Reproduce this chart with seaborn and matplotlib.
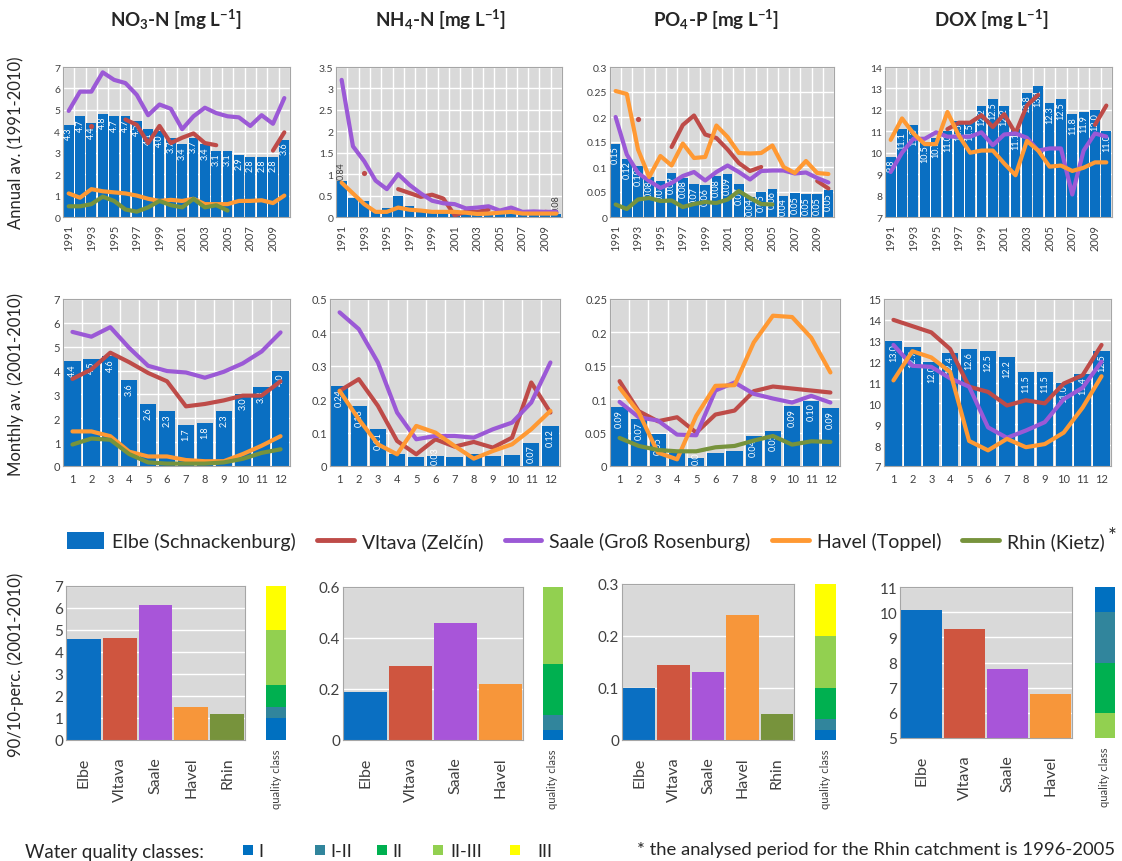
import numpy as np
import matplotlib
matplotlib.use("Agg")
import matplotlib.pyplot as plt
from matplotlib.patches import Patch, Rectangle
from matplotlib.lines import Line2D
from matplotlib.ticker import FuncFormatter
import seaborn as sns

nan = np.nan

years = list(range(1991, 2011))
months = list(range(1, 13))
rivers = ["Elbe", "Vltava", "Saale", "Havel", "Rhin"]

# ---- annual averages 1991-2010 ----
no3_elbe_y = [4.3, 4.7, 4.37, 4.8, 4.7, 4.7, 4.5, 4.1, 4.0, 3.7, 3.4, 3.7, 3.4, 3.1, 3.1, 2.9, 2.8, 2.8, 2.8, 3.6]
no3_vltava_y = [nan, nan, 4.25, nan, nan, 4.55, 4.3, 3.45, 4.25, 3.45, 3.7, 3.9, 3.45, 3.35, nan, nan, nan, nan, 3.1, 3.95]
no3_saale_y = [4.95, 5.85, 5.85, 6.75, 6.4, 6.25, 5.7, 4.75, 5.25, 5.05, 4.1, 4.7, 5.1, 4.85, 4.7, 4.65, 4.25, 4.75, 4.35, 5.55]
no3_havel_y = [1.1, 0.9, 1.3, 1.2, 1.15, 1.1, 1.0, 0.85, 0.75, 0.8, 0.75, 0.85, 0.6, 0.6, 0.6, 0.75, 0.75, 0.78, 0.65, 1.0]
no3_rhin_y = [0.5, 0.5, 0.6, 0.95, 0.75, 0.35, 0.25, 0.45, 0.75, 0.55, 0.45, 0.85, 0.45, 0.55, 0.3, nan, nan, nan, nan, nan]

nh4_elbe_y = [0.84, 0.45, 0.38, 0.15, 0.22, 0.48, 0.25, 0.12, 0.1, 0.1, 0.08, 0.07, 0.06, 0.06, 0.06, 0.06, 0.05, 0.05, 0.05, 0.08]
nh4_vltava_y = [nan, nan, 1.02, nan, nan, 0.65, 0.56, 0.47, 0.52, 0.43, 0.04, 0.12, 0.12, 0.17, nan, nan, nan, nan, 0.12, 0.1]
nh4_saale_y = [3.2, 1.65, 1.3, 0.85, 0.65, 1.0, 0.75, 0.55, 0.38, 0.32, 0.3, 0.2, 0.22, 0.25, 0.15, 0.22, 0.12, 0.13, 0.12, 0.12]
nh4_havel_y = [0.8, 0.55, 0.3, 0.12, 0.12, 0.22, 0.17, 0.15, 0.12, 0.12, 0.12, 0.1, 0.07, 0.08, 0.1, 0.12, 0.08, 0.08, 0.08, 0.08]

po4_elbe_y = [0.147, 0.117, 0.103, 0.08, 0.073, 0.088, 0.079, 0.066, 0.064, 0.082, 0.086, 0.066, 0.04, 0.051, 0.057, 0.042, 0.048, 0.046, 0.046, 0.054]
po4_vltava_y = [nan, nan, 0.197, nan, nan, 0.14, 0.184, 0.203, 0.165, 0.158, 0.135, 0.108, 0.092, 0.1, nan, nan, nan, nan, 0.072, 0.057]
po4_saale_y = [0.2, 0.125, 0.088, 0.072, 0.058, 0.068, 0.082, 0.09, 0.073, 0.09, 0.103, 0.09, 0.075, 0.092, 0.093, 0.093, 0.087, 0.089, 0.078, 0.069]
po4_havel_y = [0.252, 0.246, 0.135, 0.08, 0.122, 0.103, 0.147, 0.118, 0.12, 0.183, 0.16, 0.128, 0.127, 0.128, 0.143, 0.1, 0.088, 0.112, 0.088, 0.086]
po4_rhin_y = [0.025, 0.016, 0.035, 0.038, 0.032, 0.033, 0.02, 0.026, 0.03, 0.028, 0.035, 0.052, 0.038, 0.026, 0.025, nan, nan, nan, nan, nan]

dox_elbe_y = [9.8, 11.1, 11.3, 10.5, 10.7, 11.0, 11.5, 11.5, 12.2, 12.5, 12.2, 11.1, 12.8, 13.1, 12.3, 12.5, 11.8, 11.9, 12.0, 11.0]
dox_vltava_y = [nan, nan, nan, nan, nan, 11.1, 11.4, 11.4, 11.75, 11.2, 11.8, 10.9, 12.2, 12.7, nan, nan, nan, nan, 11.3, 12.2]
dox_saale_y = [9.1, 10.0, 10.65, 10.65, 10.95, 10.75, 10.75, 10.75, 10.95, 10.35, 10.85, 10.9, 10.7, 10.1, 10.2, 10.2, 8.05, 10.1, 10.9, 10.75]
dox_havel_y = [10.6, 11.6, 10.9, 10.4, 10.4, 11.9, 10.8, 10.0, 10.1, 10.1, 9.5, 8.95, 10.55, 10.1, 9.35, 9.4, 9.15, 9.3, 9.55, 9.55]

# ---- monthly averages 2001-2010 ----
no3_elbe_m = [4.4, 4.5, 4.6, 3.6, 2.6, 2.3, 1.7, 1.8, 2.3, 3.0, 3.3, 4.0]
no3_vltava_m = [3.65, 4.05, 4.75, 4.35, 3.9, 3.55, 2.5, 2.6, 2.75, 2.95, 2.95, 3.55]
no3_saale_m = [5.62, 5.42, 5.82, 4.95, 4.2, 3.98, 3.92, 3.7, 3.95, 4.3, 4.8, 5.6]
no3_havel_m = [1.45, 1.45, 1.25, 0.6, 0.4, 0.4, 0.25, 0.2, 0.2, 0.5, 0.85, 1.25]
no3_rhin_m = [0.9, 1.15, 1.1, 0.5, 0.15, 0.1, 0.1, 0.1, 0.15, 0.3, 0.55, 0.7]

nh4_elbe_m = [0.24, 0.18, 0.11, 0.035, 0.028, 0.03, 0.027, 0.035, 0.03, 0.032, 0.07, 0.12]
nh4_vltava_m = [0.225, 0.26, 0.18, 0.075, 0.035, 0.08, 0.058, 0.072, 0.055, 0.085, 0.25, 0.16]
nh4_saale_m = [0.46, 0.41, 0.31, 0.16, 0.08, 0.09, 0.09, 0.085, 0.11, 0.13, 0.19, 0.31]
nh4_havel_m = [0.225, 0.14, 0.065, 0.035, 0.12, 0.1, 0.06, 0.022, 0.045, 0.065, 0.11, 0.165]

po4_elbe_m = [0.088, 0.07, 0.048, 0.02, 0.012, 0.019, 0.023, 0.045, 0.053, 0.09, 0.098, 0.087]
po4_vltava_m = [0.127, 0.082, 0.067, 0.073, 0.05, 0.077, 0.083, 0.112, 0.119, 0.116, 0.113, 0.11]
po4_saale_m = [0.096, 0.073, 0.068, 0.047, 0.046, 0.113, 0.125, 0.108, 0.101, 0.095, 0.105, 0.095]
po4_havel_m = [0.117, 0.08, 0.02, 0.01, 0.075, 0.12, 0.121, 0.185, 0.225, 0.223, 0.192, 0.14]
po4_rhin_m = [0.042, 0.03, 0.024, 0.022, 0.022, 0.028, 0.03, 0.038, 0.045, 0.032, 0.037, 0.036]

dox_elbe_m = [13.0, 12.7, 12.0, 12.4, 12.6, 12.5, 12.2, 11.5, 11.5, 11.0, 11.4, 12.5]
dox_vltava_m = [14.0, 13.7, 13.4, 12.6, 10.8, 10.55, 9.9, 10.15, 10.0, 10.95, 11.35, 12.8]
dox_saale_m = [12.8, 11.8, 11.75, 11.2, 10.8, 8.85, 8.35, 8.7, 9.1, 10.2, 10.75, 12.0]
dox_havel_m = [11.1, 12.5, 12.2, 11.5, 8.2, 7.75, 8.3, 7.9, 8.05, 8.6, 9.8, 11.3]

# ---- 90/10 percentiles 2001-2010 ----
no3_perc = [4.6, 4.65, 6.15, 1.5, 1.2]
nh4_perc = [0.19, 0.29, 0.46, 0.22]
po4_perc = [0.1, 0.145, 0.13, 0.24, 0.05]
dox_perc = [10.1, 9.35, 7.75, 6.75]

# quality class boundaries (I, I-II, II, II-III, III)
class_names = ["I", "I-II", "II", "II-III", "III"]
no3_classes = [0, 1.0, 1.5, 2.5, 5.0, 7.0]
nh4_classes = [0, 0.04, 0.1, 0.3, 0.6, 0.6]
po4_classes = [0, 0.02, 0.04, 0.1, 0.2, 0.3]
dox_classes = [11, 10, 8, 6, 5]  # top-down: I, I-II, II, II-III

C_ELBE = "#0A6FC2"
C_VLT_BAR = "#CF553F"
C_SAA_BAR = "#A855D9"
C_HAV_BAR = "#F7963A"
C_RHI_BAR = "#77933C"
C_VLT = "#BE4B48"
C_SAA = "#9B59D6"
C_HAV = "#FF9933"
C_RHI = "#77933C"
CLASS_COLORS = ["#0070C0", "#31859C", "#00B050", "#92D050", "#FFFF00"]
BG = "#D9D9D9"

sns.set_style("white")
plt.rcParams["font.family"] = ["Lato", "DejaVu Sans"]
plt.rcParams["mathtext.fontset"] = "custom"
plt.rcParams["mathtext.bf"] = "Lato:bold"
plt.rcParams["mathtext.rm"] = "Lato"
plt.rcParams["mathtext.default"] = "bf"

W, H = 1122, 862
fig = plt.figure(figsize=(W / 100, H / 100), dpi=100)


def box(l, t, r, b):
    return [l / W, 1 - b / H, (r - l) / W, (b - t) / H]


def style_ax(ax, ylim, yticks, fs):
    ax.set_facecolor(BG)
    ax.set_ylim(*ylim)
    ax.set_yticks(yticks)
    ax.yaxis.set_major_formatter(FuncFormatter(lambda v, p: f"{v:g}"))
    ax.set_axisbelow(True)
    ax.grid(axis="y", color="white", lw=1)
    for s in ax.spines.values():
        s.set_color("#A6A6A6")
        s.set_linewidth(0.8)
    ax.tick_params(axis="both", labelsize=fs, colors="#404040", length=3, width=0.8, pad=2)
    ax.tick_params(axis="y", length=0)
    ax.set_xlabel("")
    ax.set_ylabel("")


def draw_lines(ax, series):
    for vals, color in series:
        vals = np.asarray(vals, float)
        idx = np.arange(len(vals))[~np.isnan(vals)]
        runs = np.split(idx, np.where(np.diff(idx) > 1)[0] + 1)
        for r in runs:
            if len(r) == 1:
                sns.scatterplot(x=r, y=vals[r], ax=ax, color=color, s=14, linewidth=0, zorder=4)
            elif len(r) > 1:
                sns.lineplot(x=r, y=vals[r], ax=ax, color=color, linewidth=3, zorder=4)


def labels(ax, vals, fmt, ylim, axh, which=None, above=False, fs=6.5):
    span = ylim[1] - ylim[0]
    pad = 0.012 * span
    txt_len = 20 / axh * span
    for i, v in enumerate(vals):
        if which is not None and i not in which:
            continue
        s = fmt.format(v)
        if above:
            ax.text(i, v + pad, s, rotation=90, ha="center", va="bottom",
                    color="#404040", fontsize=fs, zorder=3)
        elif v - pad - txt_len < ylim[0]:
            ax.text(i, ylim[0] + pad, s, rotation=90, ha="center", va="bottom",
                    color="white", fontsize=fs, zorder=3)
        else:
            ax.text(i, v - pad, s, rotation=90, ha="center", va="top",
                    color="white", fontsize=fs, zorder=3)


def time_panel(pos, cats, elbe, lines, ylim, yticks, fmt, which=None, above=False, annual=True):
    ax = fig.add_axes(box(*pos))
    n = len(cats)
    sns.barplot(x=list(range(n)), y=elbe, ax=ax, color=C_ELBE, width=0.86,
                saturation=1, edgecolor="none", zorder=1)
    draw_lines(ax, lines)
    fs = 7.5 if annual else 8
    style_ax(ax, ylim, yticks, fs)
    ax.set_xticks(np.arange(-0.5, n), minor=True)
    ax.grid(axis="x", which="minor", color="white", lw=1)
    if annual:
        ax.set_xticks(range(0, n, 2))
        ax.set_xticklabels([str(c) for c in cats[::2]], rotation=90, fontsize=8)
    else:
        ax.set_xticks(range(n))
        ax.set_xticklabels([str(c) for c in cats])
    ax.set_xlim(-0.5, n - 0.5)
    ax.set_ylim(*ylim)
    labels(ax, elbe, fmt, ylim, pos[3] - pos[1], which=which, above=above)
    return ax


# ---- row 1: annual averages ----
time_panel((63, 68, 290, 218), years, no3_elbe_y,
           [(no3_vltava_y, C_VLT), (no3_saale_y, C_SAA), (no3_havel_y, C_HAV), (no3_rhin_y, C_RHI)],
           (0, 7), range(0, 8), "{:.1f}")
time_panel((336, 68, 562, 218), years, nh4_elbe_y,
           [(nh4_vltava_y, C_VLT), (nh4_saale_y, C_SAA), (nh4_havel_y, C_HAV)],
           (0, 3.5), np.arange(0, 3.6, 0.5), "{:.2f}", which=[0, 19], above=True)
time_panel((610, 68, 834, 218), years, po4_elbe_y,
           [(po4_vltava_y, C_VLT), (po4_saale_y, C_SAA), (po4_havel_y, C_HAV), (po4_rhin_y, C_RHI)],
           (0, 0.3), np.arange(0, 0.31, 0.05), "{:.2f}")
time_panel((885, 68, 1112, 218), years, dox_elbe_y,
           [(dox_vltava_y, C_VLT), (dox_saale_y, C_SAA), (dox_havel_y, C_HAV)],
           (7, 14), range(7, 15), "{:.1f}")

# ---- row 2: monthly averages ----
time_panel((63, 300, 290, 467), months, no3_elbe_m,
           [(no3_vltava_m, C_VLT), (no3_saale_m, C_SAA), (no3_havel_m, C_HAV), (no3_rhin_m, C_RHI)],
           (0, 7), range(0, 8), "{:.1f}", annual=False)
time_panel((330, 300, 560, 467), months, nh4_elbe_m,
           [(nh4_vltava_m, C_VLT), (nh4_saale_m, C_SAA), (nh4_havel_m, C_HAV)],
           (0, 0.5), np.arange(0, 0.51, 0.1), "{:.2f}", which=[0, 1, 2, 5, 10, 11], annual=False)
time_panel((610, 300, 840, 467), months, po4_elbe_m,
           [(po4_vltava_m, C_VLT), (po4_saale_m, C_SAA), (po4_havel_m, C_HAV), (po4_rhin_m, C_RHI)],
           (0, 0.25), np.arange(0, 0.26, 0.05), "{:.2f}", which=[0, 1, 2, 4, 7, 8, 9, 10, 11], annual=False)
time_panel((884, 300, 1111, 467), months, dox_elbe_m,
           [(dox_vltava_m, C_VLT), (dox_saale_m, C_SAA), (dox_havel_m, C_HAV)],
           (7, 15), range(7, 16), "{:.1f}", annual=False)


# ---- row 3: percentiles with quality classes ----
def perc_panel(pos, qpos, vals, ylim, yticks, bounds):
    ax = fig.add_axes(box(*pos))
    names = rivers[:len(vals)]
    cols = [C_ELBE, C_VLT_BAR, C_SAA_BAR, C_HAV_BAR, C_RHI_BAR][:len(vals)]
    sns.barplot(x=names, y=vals, hue=names, palette=cols, ax=ax, width=0.94,
                saturation=1, edgecolor="none", legend=False)
    style_ax(ax, ylim, yticks, 11)
    ax.set_xticks(np.arange(-0.5, len(vals)), minor=True)
    ax.set_xticks(range(len(vals)))
    ax.set_xticklabels(names, rotation=90, fontsize=11.5)
    ax.tick_params(axis="x", which="minor", length=4, color="#A6A6A6")
    ax.tick_params(axis="x", which="major", length=0, pad=12)
    ax.set_xlim(-0.5, len(vals) - 0.5)
    ax.set_ylim(*ylim)

    qa = fig.add_axes(box(*qpos))
    for k in range(len(bounds) - 1):
        lo, hi = sorted((bounds[k], bounds[k + 1]))
        qa.bar(0, hi - lo, bottom=lo, width=1, color=CLASS_COLORS[k], edgecolor="none")
    qa.set_xlim(-0.5, 0.5)
    qa.set_ylim(*ylim)
    qa.set_yticks([])
    qa.set_xticks([0])
    qa.set_xticklabels(["quality class"], rotation=90, fontsize=8, color="#404040")
    qa.tick_params(axis="x", length=0, pad=6)
    for s in qa.spines.values():
        s.set_visible(False)


perc_panel((66, 587, 245, 741), (266, 587, 286, 741), no3_perc, (0, 7), range(0, 8), no3_classes)
perc_panel((343, 588, 523, 741), (543, 588, 563, 741), nh4_perc, (0, 0.6), [0, 0.2, 0.4, 0.6], nh4_classes)
perc_panel((622, 585, 794, 741), (815, 585, 836, 741), po4_perc, (0, 0.3), [0, 0.1, 0.2, 0.3], po4_classes)
perc_panel((900, 588, 1072, 739), (1095, 588, 1115, 739), dox_perc, (5, 11), range(5, 12), dox_classes)

# ---- titles and row labels ----
titles = ["NO$_3$-N [mg L$^{-1}$]", "NH$_4$-N [mg L$^{-1}$]", "PO$_4$-P [mg L$^{-1}$]", "DOX [mg L$^{-1}$]"]
title_x = [176, 441, 716, 991]
for t, x in zip(titles, title_x):
    fig.text(x / W, 1 - 20 / H, t, ha="center", va="center", fontsize=13.5, fontweight="bold")

row_labels = ["Annual av. (1991-2010)", "Monthly av. (2001-2010)", "90/10-perc. (2001-2010)"]
row_y = [143, 385, 665]
for t, y in zip(row_labels, row_y):
    fig.text(16 / W, 1 - y / H, t, rotation=90, ha="center", va="center", fontsize=12, color="#262626")

# ---- river legend ----
handles = [Patch(facecolor=C_ELBE, edgecolor="none"),
           Line2D([], [], color=C_VLT, lw=3.5),
           Line2D([], [], color=C_SAA, lw=3.5),
           Line2D([], [], color=C_HAV, lw=3.5),
           Line2D([], [], color=C_RHI, lw=3.5)]
leg_labels = ["Elbe (Schnackenburg)", "Vltava (Zelčín)", "Saale (Groß Rosenburg)", "Havel (Toppel)", "Rhin (Kietz)"]
fig.legend(handles, leg_labels, loc="center", bbox_to_anchor=(586 / W, 1 - 542 / H), ncol=5,
           frameon=False, fontsize=14, handlelength=1.9, handleheight=1.0, columnspacing=1.1,
           handletextpad=0.4, borderpad=0)
fig.text(1112 / W, 1 - 537 / H, "*", ha="center", va="center", fontsize=15)

# ---- quality class legend ----
fig.text(25 / W, 1 - 853 / H, "Water quality classes:", ha="left", va="center", fontsize=13.5)
class_x = [243, 315, 377, 433, 510]
class_tx = [258, 330, 392, 450, 537]
for c, name, x, tx in zip(CLASS_COLORS, class_names, class_x, class_tx):
    fig.add_artist(Rectangle((x / W, 1 - 856 / H), 10 / W, 10 / H, transform=fig.transFigure,
                             facecolor=c, edgecolor="none"))
    fig.text(tx / W, 1 - 852 / H, name, ha="left", va="center", fontsize=13)
fig.text(637 / W, 1 - 850 / H, "* the analysed period for the Rhin catchment is 1996-2005",
         ha="left", va="center", fontsize=13.3)

fig.savefig("out.png", dpi=100)
